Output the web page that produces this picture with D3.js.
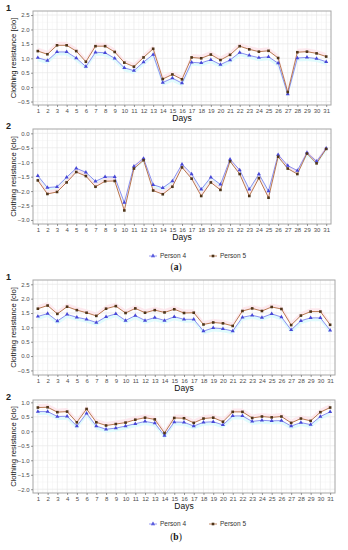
<!DOCTYPE html>
<html>
<head>
<meta charset="utf-8">
<script src="https://cdn.jsdelivr.net/npm/d3@7"></script>
<style>
  body { margin: 0; background: #fff; }
  svg { display: block; font-family: "Liberation Sans", Arial, sans-serif; }
</style>
</head>
<body>
<script>
var days = d3.range(1, 32);

// (a) panel 1
var a1Person4 = [1.02,0.92,1.22,1.22,1.01,0.71,1.21,1.19,1.00,0.67,0.57,0.87,1.13,0.16,0.31,0.14,0.86,0.84,0.95,0.78,0.94,1.20,1.10,1.02,1.05,0.83,-0.24,1.01,1.03,0.99,0.88];
var a1Person5 = [1.25,1.14,1.45,1.45,1.25,0.88,1.42,1.42,1.22,0.85,0.71,1.03,1.33,0.28,0.44,0.27,1.03,1.00,1.13,0.94,1.12,1.42,1.31,1.23,1.26,1.01,-0.17,1.21,1.23,1.17,1.06];
// (a) panel 2
var a2Person4 = [-1.47,-1.88,-1.85,-1.52,-1.21,-1.35,-1.66,-1.51,-1.51,-2.40,-1.14,-0.87,-1.78,-1.89,-1.65,-1.07,-1.41,-1.94,-1.52,-1.77,-0.90,-1.27,-1.94,-1.41,-2.00,-0.74,-1.12,-1.29,-0.67,-0.97,-0.52];
var a2Person5 = [-1.63,-2.10,-2.03,-1.70,-1.34,-1.48,-1.85,-1.66,-1.65,-2.67,-1.22,-0.93,-1.98,-2.11,-1.85,-1.18,-1.57,-2.17,-1.70,-1.96,-0.97,-1.41,-2.17,-1.55,-2.23,-0.81,-1.22,-1.41,-0.70,-1.04,-0.54];
// (b) panel 1
var b1Person4 = [1.38,1.48,1.22,1.45,1.35,1.28,1.17,1.37,1.47,1.24,1.41,1.24,1.34,1.24,1.37,1.28,1.28,0.87,0.98,0.95,0.87,1.35,1.42,1.34,1.47,1.36,0.91,1.23,1.33,1.33,0.90];
var b1Person5 = [1.65,1.76,1.47,1.72,1.60,1.51,1.40,1.65,1.74,1.50,1.66,1.51,1.60,1.52,1.63,1.50,1.51,1.10,1.17,1.14,1.05,1.57,1.66,1.57,1.71,1.64,1.08,1.41,1.55,1.55,1.09];
// (b) panel 2
var b2Person4 = [0.68,0.68,0.51,0.52,0.18,0.62,0.18,0.07,0.11,0.18,0.26,0.34,0.28,-0.15,0.32,0.31,0.18,0.31,0.33,0.22,0.53,0.53,0.34,0.38,0.36,0.37,0.18,0.30,0.23,0.51,0.67];
var b2Person5 = [0.82,0.83,0.66,0.68,0.31,0.77,0.31,0.20,0.25,0.30,0.40,0.47,0.41,-0.06,0.46,0.45,0.29,0.44,0.47,0.33,0.67,0.67,0.46,0.51,0.48,0.51,0.29,0.44,0.36,0.66,0.82];

var yTicksA1 = [-0.5, 0, 0.5, 1, 1.5, 2, 2.5];
var yTicksA2 = [-3, -2.5, -2, -1.5, -1, -0.5, 0];
var yTicksB1 = [-0.5, 0, 0.5, 1, 1.5, 2, 2.5];
var yTicksB2 = [-2, -1.5, -1, -0.5, 0, 0.5, 1];

var seriesNames = ["Person 4", "Person 5"];

var colLine = ["#7f83ee", "#b06a3e"];
var colPoint = ["#4646d6", "#4e3418"];
var colBand = ["#d8fafd", "#fde3ea"];

var svg = d3.select("body").append("svg")
    .attr("width", 348)
    .attr("height", 550);

var panels = [
    {label: "1", top: 11, bottom: 105, left: 33, right: 331, ymin: -0.62, ymax: 2.64, ticks: yTicksA1, p4: a1Person4, p5: a1Person5, tickY: 111, titleY: 121},
    {label: "2", top: 129, bottom: 224, left: 33, right: 331, ymin: -3.14, ymax: 0.15, ticks: yTicksA2, p4: a2Person4, p5: a2Person5, tickY: 229, titleY: 240},
    {label: "1", top: 280, bottom: 375, left: 33, right: 335, ymin: -0.66, ymax: 2.65, ticks: yTicksB1, p4: b1Person4, p5: b1Person5, tickY: 381, titleY: 391},
    {label: "2", top: 400, bottom: 493, left: 33, right: 335, ymin: -2.13, ymax: 1.08, ticks: yTicksB2, p4: b2Person4, p5: b2Person5, tickY: 499, titleY: 509}
];

panels.forEach(drawPanel);

function drawPanel(p) {
    var x = d3.scaleLinear().domain([0.5, 31.5]).range([p.left, p.right]);
    var y = d3.scaleLinear().domain([p.ymin, p.ymax]).range([p.bottom, p.top]);
    var g = svg.append("g");

    // grid
    var minorY = [];
    for (var i = 0; i < p.ticks.length - 1; i++) minorY.push((p.ticks[i] + p.ticks[i + 1]) / 2);
    g.selectAll(".minorY").data(minorY).enter().append("line")
        .attr("x1", p.left).attr("x2", p.right)
        .attr("y1", function (d) { return y(d); }).attr("y2", function (d) { return y(d); })
        .style("stroke", "#f2f2f2").style("stroke-width", 0.5);
    g.selectAll(".minorX").data(days.slice(0, 30)).enter().append("line")
        .attr("y1", p.top).attr("y2", p.bottom)
        .attr("x1", function (d) { return x(d + 0.5); }).attr("x2", function (d) { return x(d + 0.5); })
        .style("stroke", "#f2f2f2").style("stroke-width", 0.5);
    g.selectAll(".majorY").data(p.ticks).enter().append("line")
        .attr("x1", p.left).attr("x2", p.right)
        .attr("y1", function (d) { return y(d); }).attr("y2", function (d) { return y(d); })
        .style("stroke", "#e6e6e6").style("stroke-width", 0.7);
    g.selectAll(".majorX").data(days).enter().append("line")
        .attr("y1", p.top).attr("y2", p.bottom)
        .attr("x1", function (d) { return x(d); }).attr("x2", function (d) { return x(d); })
        .style("stroke", "#e6e6e6").style("stroke-width", 0.7);

    // faint bands around the lines
    var band4 = d3.area().x(function (d, i) { return x(days[i]); })
        .y0(function (d) { return y(d - 0.12); }).y1(function (d) { return y(d); });
    var band5 = d3.area().x(function (d, i) { return x(days[i]); })
        .y0(function (d) { return y(d); }).y1(function (d) { return y(d + 0.12); });
    g.append("path").datum(p.p4).attr("d", band4).style("fill", colBand[0]).style("opacity", 0.8);
    g.append("path").datum(p.p5).attr("d", band5).style("fill", colBand[1]).style("opacity", 0.8);

    // lines
    var line = d3.line().x(function (d, i) { return x(days[i]); }).y(function (d) { return y(d); });
    [p.p4, p.p5].forEach(function (vals, k) {
        g.append("path").datum(vals).attr("d", line)
            .style("fill", "none").style("stroke", colLine[k]).style("stroke-width", 0.9);
    });

    // points
    g.selectAll(".pt4").data(p.p4).enter().append("path")
        .attr("d", d3.symbol().type(d3.symbolTriangle).size(7))
        .attr("transform", function (d, i) { return "translate(" + x(days[i]) + "," + y(d) + ")"; })
        .style("fill", colPoint[0]);
    g.selectAll(".pt5").data(p.p5).enter().append("rect")
        .attr("x", function (d, i) { return x(days[i]) - 1.3; })
        .attr("y", function (d) { return y(d) - 1.3; })
        .attr("width", 2.6).attr("height", 2.6)
        .style("fill", colPoint[1]);

    // frame
    g.append("rect").attr("x", p.left).attr("y", p.top)
        .attr("width", p.right - p.left).attr("height", p.bottom - p.top)
        .style("fill", "none").style("stroke", "#a6a6a6").style("stroke-width", 1);

    // axes
    var yAxis = d3.axisLeft(y).tickValues(p.ticks).tickSize(2).tickPadding(1.5)
        .tickFormat(d3.format(".1f"));
    var ya = g.append("g").attr("transform", "translate(" + p.left + ",0)").call(yAxis);
    var xAxis = d3.axisBottom(x).tickValues(days).tickSize(2).tickPadding(1.5)
        .tickFormat(d3.format("d"));
    var xa = g.append("g").attr("transform", "translate(0," + p.bottom + ")").call(xAxis);
    [ya, xa].forEach(function (a) {
        a.select(".domain").remove();
        a.selectAll("line").style("stroke", "#555").style("stroke-width", 0.6);
        a.selectAll("text").style("font-size", "6px").style("fill", "#4d4d4d")
            .style("font-family", "Liberation Sans, Arial, sans-serif");
    });

    // titles
    svg.append("text")
        .attr("x", (p.left + p.right) / 2).attr("y", p.titleY)
        .attr("text-anchor", "middle")
        .style("font-size", "8.5px").style("fill", "#111")
        .text("Days");
    svg.append("text")
        .attr("transform", "translate(16," + ((p.top + p.bottom) / 2) + ") rotate(-90)")
        .attr("text-anchor", "middle")
        .style("font-size", "7.6px").style("fill", "#111")
        .text("Clothing resistance [clo]");
    svg.append("text")
        .attr("x", 6).attr("y", p.top - 0.5)
        .style("font-size", "9px").style("font-weight", "bold").style("fill", "#222")
        .text(p.label);
}

// legends and captions
[{y: 256, cap: "(a)", capY: 270}, {y: 524, cap: "(b)", capY: 540}].forEach(function (l) {
    var lg = svg.append("g");
    lg.append("path").attr("d", d3.symbol().type(d3.symbolTriangle).size(8))
        .attr("transform", "translate(153," + l.y + ")").style("fill", colPoint[0]);
    lg.append("line").attr("x1", 149).attr("x2", 157).attr("y1", l.y).attr("y2", l.y)
        .style("stroke", colLine[0]).style("stroke-width", 0.8);
    lg.append("text").attr("x", 160).attr("y", l.y + 2.2)
        .style("font-size", "6.5px").style("fill", "#333").text(seriesNames[0]);
    lg.append("line").attr("x1", 209).attr("x2", 217).attr("y1", l.y).attr("y2", l.y)
        .style("stroke", colLine[1]).style("stroke-width", 0.8);
    lg.append("rect").attr("x", 211.7).attr("y", l.y - 1.3).attr("width", 2.6).attr("height", 2.6)
        .style("fill", colPoint[1]);
    lg.append("text").attr("x", 220).attr("y", l.y + 2.2)
        .style("font-size", "6.5px").style("fill", "#333").text(seriesNames[1]);
    svg.append("text").attr("x", 176).attr("y", l.capY)
        .attr("text-anchor", "middle")
        .style("font-family", "Liberation Serif, Times New Roman, serif")
        .style("font-size", "9.5px").style("fill", "#111")
        .html("(<tspan font-weight='bold'>" + l.cap.charAt(1) + "</tspan>)");
});
</script>
</body>
</html>
